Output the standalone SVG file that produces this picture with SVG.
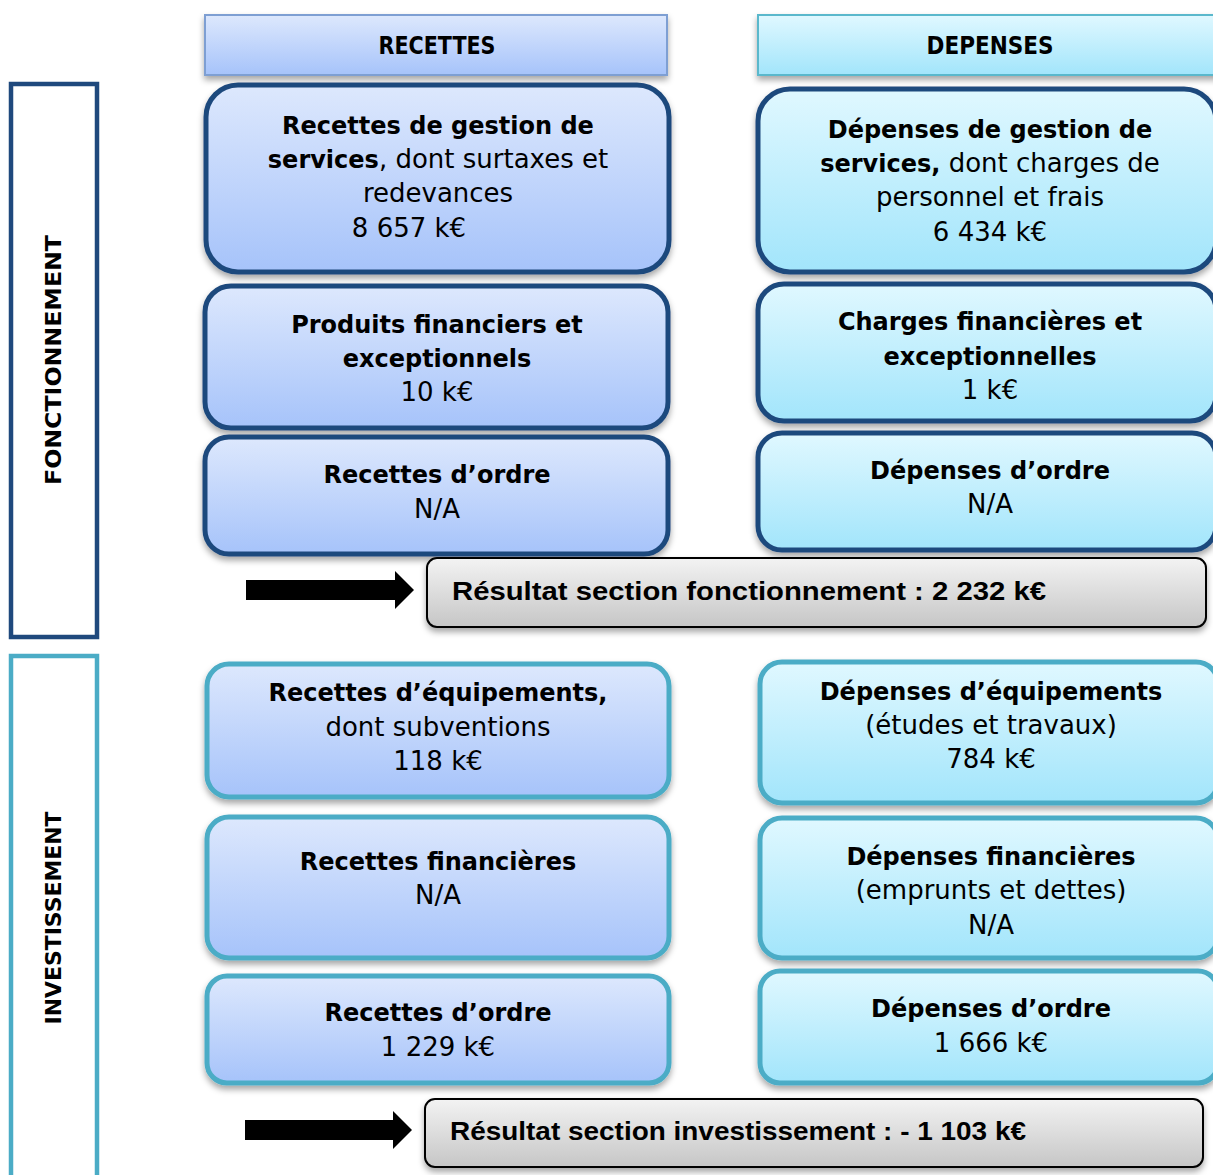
<svg xmlns="http://www.w3.org/2000/svg" width="1213" height="1175" viewBox="0 0 1213 1175">
<style>
.t{font-family:"DejaVu Sans","Liberation Sans",sans-serif;font-size:26px;fill:#000;text-anchor:middle}
.b{font-weight:bold;font-size:24px}
.h{font-family:"DejaVu Sans","Liberation Sans",sans-serif;font-weight:bold;font-size:24px;text-anchor:middle}
.r{font-family:"Liberation Sans",Arial,sans-serif;font-weight:bold;font-size:26px}
.fr{fill:url(#gR);stroke:#1f497d;stroke-width:5}
.fd{fill:url(#gD);stroke:#1f497d;stroke-width:5}
.ir{fill:url(#gR);stroke:#4bacc6;stroke-width:5}
.id{fill:url(#gD);stroke:#4bacc6;stroke-width:5}
.res{fill:url(#gG);stroke:#000;stroke-width:2}
</style>
<defs>
<linearGradient id="gR" x1="0" y1="0" x2="0" y2="1"><stop offset="0" stop-color="#dde8fd"/><stop offset="1" stop-color="#a6c3fa"/></linearGradient>
<linearGradient id="gD" x1="0" y1="0" x2="0" y2="1"><stop offset="0" stop-color="#e0f8ff"/><stop offset="1" stop-color="#a2e5fb"/></linearGradient>
<linearGradient id="gG" x1="0" y1="0" x2="0" y2="1"><stop offset="0" stop-color="#f3f3f3"/><stop offset="1" stop-color="#c6c6c6"/></linearGradient>
<filter id="sh" x="-10%" y="-10%" width="120%" height="130%"><feDropShadow dx="0" dy="4" stdDeviation="3" flood-color="#000" flood-opacity="0.35"/></filter>
</defs>
<rect width="1213" height="1175" fill="#fff"/>

<g id="hdr-recettes">
<rect x="205" y="15" width="462" height="60" fill="url(#gR)" stroke="#7e9fd3" stroke-width="2" filter="url(#sh)"/>
<text class="h" x="437" y="54" textLength="117" lengthAdjust="spacingAndGlyphs">RECETTES</text>
</g>
<g id="hdr-depenses">
<rect x="758" y="15" width="470" height="60" fill="url(#gD)" stroke="#5ab8cc" stroke-width="2" filter="url(#sh)"/>
<text class="h" x="990" y="54" textLength="127" lengthAdjust="spacingAndGlyphs">DEPENSES</text>
</g>

<g id="lbl-fonctionnement">
<rect x="11" y="84" width="86" height="553" fill="#fff" stroke="#1f497d" stroke-width="4.5"/>
<text class="h" transform="translate(61,360) rotate(-90)" style="font-size:21px" textLength="250" lengthAdjust="spacingAndGlyphs">FONCTIONNEMENT</text>
</g>
<g id="lbl-investissement">
<rect x="11" y="656" width="86" height="540" fill="#fff" stroke="#4bacc6" stroke-width="4.5"/>
<text class="h" transform="translate(61,918) rotate(-90)" style="font-size:21px" textLength="213" lengthAdjust="spacingAndGlyphs">INVESTISSEMENT</text>
</g>

<g id="f-rec-gestion">
<rect class="fr" x="206" y="85" width="463" height="187" rx="32" filter="url(#sh)"/>
<text class="t"><tspan x="438" y="134" class="b">Recettes de gestion de</tspan><tspan x="438" y="168"><tspan class="b">services</tspan>, dont surtaxes et</tspan><tspan x="438" y="202">redevances</tspan><tspan x="409" y="237">8 657 k€</tspan></text>
</g>
<g id="f-rec-fin">
<rect class="fr" x="205" y="286" width="463" height="142" rx="26" filter="url(#sh)"/>
<text class="t"><tspan x="437" y="333" class="b">Produits financiers et</tspan><tspan x="437" y="367" class="b">exceptionnels</tspan><tspan x="437" y="401">10 k€</tspan></text>
</g>
<g id="f-rec-ordre">
<rect class="fr" x="205" y="437" width="463" height="117" rx="24" filter="url(#sh)"/>
<text class="t"><tspan x="437" y="483" class="b">Recettes d’ordre</tspan><tspan x="437" y="518">N/A</tspan></text>
</g>

<g id="f-dep-gestion">
<rect class="fd" x="758" y="89" width="458" height="183" rx="32" filter="url(#sh)"/>
<text class="t"><tspan x="990" y="138" class="b">Dépenses de gestion de</tspan><tspan x="990" y="172"><tspan class="b">services,</tspan> dont charges de</tspan><tspan x="990" y="206">personnel et frais</tspan><tspan x="990" y="241">6 434 k€</tspan></text>
</g>
<g id="f-dep-fin">
<rect class="fd" x="758" y="284" width="458" height="137" rx="26" filter="url(#sh)"/>
<text class="t"><tspan x="990" y="330" class="b">Charges financières et</tspan><tspan x="990" y="365" class="b">exceptionnelles</tspan><tspan x="990" y="399">1 k€</tspan></text>
</g>
<g id="f-dep-ordre">
<rect class="fd" x="758" y="433" width="458" height="117" rx="24" filter="url(#sh)"/>
<text class="t"><tspan x="990" y="479" class="b">Dépenses d’ordre</tspan><tspan x="990" y="513">N/A</tspan></text>
</g>

<g id="f-resultat">
<rect class="res" x="427" y="558" width="779" height="69" rx="10" filter="url(#sh)"/>
<text class="r" x="452" y="600" textLength="594" lengthAdjust="spacingAndGlyphs">Résultat section fonctionnement : 2 232 k€</text>
</g>

<g id="i-rec-equip">
<rect class="ir" x="207" y="664" width="462" height="133" rx="22" filter="url(#sh)"/>
<text class="t"><tspan x="438" y="701" class="b">Recettes d’équipements,</tspan><tspan x="438" y="736">dont subventions</tspan><tspan x="438" y="770">118 k€</tspan></text>
</g>
<g id="i-rec-fin">
<rect class="ir" x="207" y="817" width="462" height="141" rx="22" filter="url(#sh)"/>
<text class="t"><tspan x="438" y="870" class="b">Recettes financières</tspan><tspan x="438" y="904">N/A</tspan></text>
</g>
<g id="i-rec-ordre">
<rect class="ir" x="207" y="976" width="462" height="107" rx="20" filter="url(#sh)"/>
<text class="t"><tspan x="438" y="1021" class="b">Recettes d’ordre</tspan><tspan x="438" y="1056">1 229 k€</tspan></text>
</g>

<g id="i-dep-equip">
<rect class="id" x="760" y="662" width="458" height="141" rx="22" filter="url(#sh)"/>
<text class="t"><tspan x="991" y="700" class="b">Dépenses d’équipements</tspan><tspan x="991" y="734">(études et travaux)</tspan><tspan x="991" y="768">784 k€</tspan></text>
</g>
<g id="i-dep-fin">
<rect class="id" x="760" y="818" width="458" height="140" rx="22" filter="url(#sh)"/>
<text class="t"><tspan x="991" y="865" class="b">Dépenses financières</tspan><tspan x="991" y="899">(emprunts et dettes)</tspan><tspan x="991" y="934">N/A</tspan></text>
</g>
<g id="i-dep-ordre">
<rect class="id" x="760" y="971" width="458" height="112" rx="20" filter="url(#sh)"/>
<text class="t"><tspan x="991" y="1017" class="b">Dépenses d’ordre</tspan><tspan x="991" y="1052">1 666 k€</tspan></text>
</g>

<g id="i-resultat">
<rect class="res" x="425" y="1099" width="778" height="68" rx="10" filter="url(#sh)"/>
<text class="r" x="450" y="1140" textLength="576" lengthAdjust="spacingAndGlyphs">Résultat section investissement : - 1 103 k€</text>
</g>

<g id="connectors">
<polygon points="246,580 395,580 395,571 414,590 395,609 395,600 246,600" fill="#000"/>
<polygon points="245,1120 393,1120 393,1111 412,1130 393,1149 393,1140 245,1140" fill="#000"/>
</g>
</svg>
